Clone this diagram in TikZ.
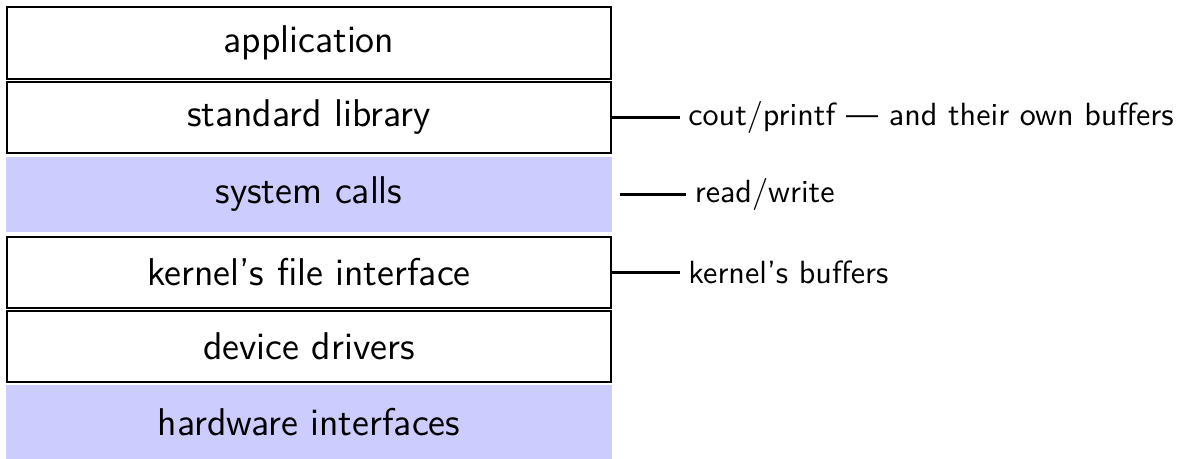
\documentclass[tikz,border=0pt]{standalone}
\usepackage{amsmath}
\usepackage{tikz}
\renewcommand{\familydefault}{\sfdefault}

\begin{document}
\begin{tikzpicture}[auto=center,
		layer/.style={minimum width=7.07cm,minimum height=0.832cm,font=\fontsize{12.9}{15}\selectfont,inner sep=0pt},
		box/.style={layer,draw,line width=0.7pt},
		shaded/.style={layer,fill=blue!20,minimum width=7.1cm},
		note/.style={anchor=west,inner sep=2.6pt,font=\fontsize{10.7}{13}\selectfont},
		link/.style={line width=0.7pt}]
			\useasboundingbox (0,0) rectangle (13.81,5.376);
			\node[box,minimum height=0.843cm] (app) at (3.619,4.873) {application};
			\node[box] (lib) at (3.619,4.0) {standard library};
			\node[shaded,minimum height=0.878cm] (sys) at (3.619,3.098) {system calls};
			\node[box] (kern) at (3.619,2.184) {kernel's file interface};
			\node[box] (drv) at (3.619,1.318) {device drivers};
			\node[shaded,minimum height=0.867cm] (hw) at (3.619,0.4335) {hardware interfaces};
			\node[note] (libnote) at (7.965,4.0) {cout/printf --- and their own buffers};
			\node[note] (sysnote) at (8.04,3.098) {read/write};
			\node[note] (kernnote) at (7.965,2.184) {kernel's buffers};
			\draw[link] (lib.east) -- (libnote.west);
			\draw[link,shorten <=2.3pt] (sys.east) -- (sysnote.west);
			\draw[link] (kern.east) -- (kernnote.west);
		\end{tikzpicture}
\end{document}
